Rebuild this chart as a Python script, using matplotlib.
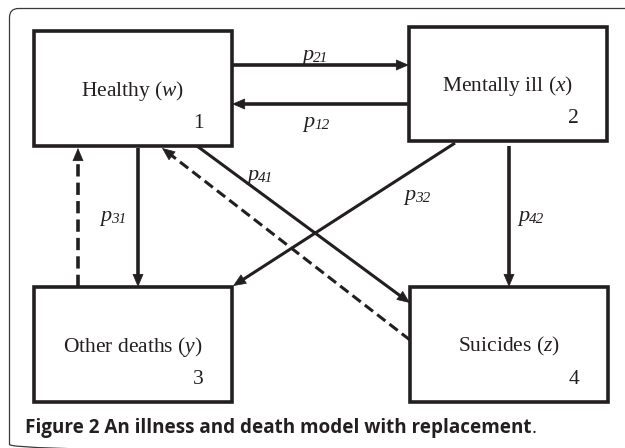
import numpy as np
import matplotlib
matplotlib.use("Agg")
import matplotlib.pyplot as plt
from matplotlib.patches import FancyBboxPatch, FancyArrowPatch, Rectangle

plt.rcParams["mathtext.fontset"] = "custom"
plt.rcParams["mathtext.it"] = "Liberation Serif:italic"
plt.rcParams["mathtext.rm"] = "Liberation Serif"

# ── diagram content ───────────────────────────────────────────────────────────
STATE_NAMES = ["Healthy", "Mentally ill", "Other deaths", "Suicides"]
STATE_VARS = ["w", "x", "y", "z"]
STATE_IDS = ["1", "2", "3", "4"]

# transitions: from, to, subscript of p, dashed (replacement)
EDGE_FROM = [1, 2, 1, 3, 1, 4, 2, 2]
EDGE_TO = [2, 1, 3, 1, 4, 1, 3, 4]
EDGE_SUBS = ["21", "12", "31", "", "41", "", "32", "42"]
EDGE_DASHED = [False, False, False, True, False, True, False, False]

CAPTION_BOLD = "Figure 2 An illness and death model with replacement"
CAPTION_END = "."

# ── layout (pixel space, y downwards) ─────────────────────────────────────────
W, H = 625, 448
BOXES = {1: (34, 31, 198, 115), 2: (409, 27, 198, 114),
         3: (34, 287, 198, 115), 4: (410, 287, 198, 115)}
# start / end points of each edge, in the same order as the edge lists
ENDS = [((232, 65), (409, 65)), ((409, 104), (232, 104)),
        ((138, 148), (138, 287)), ((78, 287), (78, 148)),
        ((197, 146), (410, 303)), ((410, 340), (162, 148)),
        ((455, 143), (233, 286)), ((509, 146), (509, 287))]
LABEL_POS = [(315, 56), (316, 123), (113, 217), None,
             (260, 176), None, (417, 196), (531, 217)]

fig = plt.figure(figsize=(W / 100, H / 100), dpi=100)
ax = fig.add_axes([0, 0, 1, 1])
ax.set_xlim(0, W)
ax.set_ylim(H, 0)
ax.axis("off")

INK = "#231f20"
SERIF = "Liberation Serif"

# outer frame (open to the right / bottom)
frame = FancyBboxPatch((9.5, 8.5), 800, 445, boxstyle="round,pad=0,rounding_size=9",
                       fc="none", ec="#3a3a3a", lw=0.9, zorder=1)
ax.add_patch(frame)

# state boxes
for k, (x, y, w, h) in BOXES.items():
    ax.add_patch(Rectangle((x, y), w, h, fc="white", ec=INK, lw=2.6, zorder=3))
    i = k - 1
    ax.text(x + w / 2, y + h * 0.52,
            f"{STATE_NAMES[i]} (" + r"$\mathit{" + STATE_VARS[i] + "}$)",
            ha="center", va="center", fontsize=15.5, family=SERIF,
            color=INK, zorder=4)
    ax.text(x + w * 0.83, y + h * 0.80, STATE_IDS[i], ha="center", va="center",
            fontsize=15.5, family=SERIF, color=INK, zorder=4)

# transitions
for i in range(len(EDGE_FROM)):
    (x0, y0), (x1, y1) = ENDS[i]
    d = np.array([x1 - x0, y1 - y0], float)
    d /= np.hypot(*d)
    diag = abs(d[0]) > 0.05 and abs(d[1]) > 0.05
    lw = 2.2 if diag else 2.6
    ls = (0, (3.4, 1.7)) if EDGE_DASHED[i] else "-"
    sx, sy = x1 - d[0] * 8, y1 - d[1] * 8
    ax.plot([x0, sx], [y0, sy], color=INK, lw=lw, linestyle=ls,
            solid_capstyle="butt", dash_capstyle="butt", zorder=2)
    head = FancyArrowPatch((x1 - d[0] * 12, y1 - d[1] * 12), (x1, y1),
                           arrowstyle="-|>,head_length=8.5,head_width=3.6",
                           mutation_scale=1, shrinkA=0, shrinkB=0,
                           fc=INK, ec=INK, lw=0.5, zorder=5)
    ax.add_patch(head)
    if EDGE_SUBS[i] and LABEL_POS[i]:
        lx, ly = LABEL_POS[i]
        ax.text(lx - 2, ly + 4, "p", ha="right", va="baseline", fontsize=16,
                family=SERIF, style="italic", color=INK, zorder=4)
        ax.text(lx - 2, ly + 6, EDGE_SUBS[i], ha="left", va="baseline",
                fontsize=11, family=SERIF, style="italic", color=INK, zorder=4)

# caption: bold run followed by a regular full stop
cap = ax.text(25, 428, CAPTION_BOLD, ha="left", va="center", fontsize=13.6,
              family="Open Sans", fontweight="bold", color=INK)
fig.canvas.draw()
bb = cap.get_window_extent().transformed(ax.transData.inverted())
ax.text(bb.x1 + 0.5, 428, CAPTION_END, ha="left", va="center", fontsize=13.6,
        family="Open Sans", color=INK)

fig.savefig("out.png", dpi=100, facecolor="white")
